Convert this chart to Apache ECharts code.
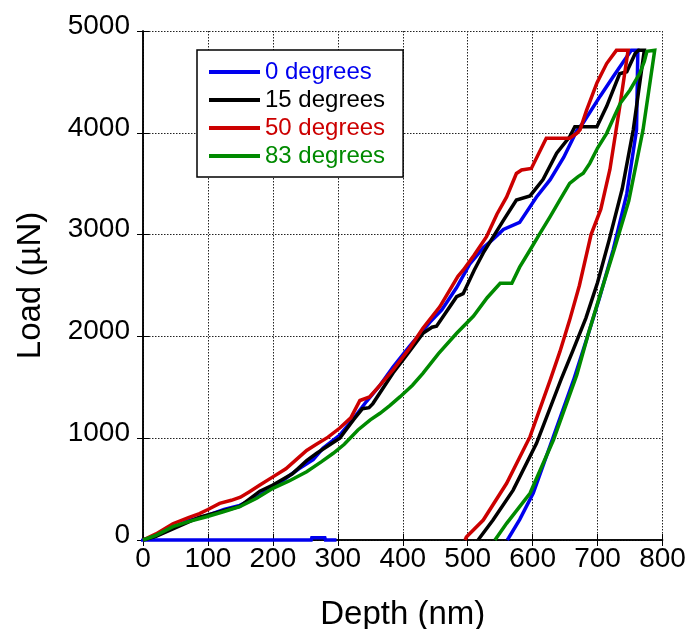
<!DOCTYPE html>
<html>
<head>
<meta charset="utf-8">
<script src="https://cdn.jsdelivr.net/npm/echarts@6/dist/echarts.min.js"></script>
<style>
  html, body { margin: 0; padding: 0; background: #fff; }
  #chart { width: 687px; height: 629px; }
</style>
</head>
<body>
<div id="chart"></div>
<script>
// Load–depth indentation curves, one per tilt angle: [depth nm, load µN]
const seriesNames = ['0 degrees', '15 degrees', '50 degrees', '83 degrees'];
const seriesColors = ['#0000ee', '#000000', '#cc0000', '#008a00'];

const deg0 = [
  [298,0],[281,0],[280,22],[260,22],[259,0],[0,0],
  [20,40],[46,120],[70,190],[98,240],[125,300],[149,340],[175,420],[210,560],
  [240,700],[262,790],[277,900],[303,1030],[325,1200],[344,1360],[365,1520],
  [385,1700],[410,1900],[442,2140],[460,2260],[483,2480],[503,2710],[524,2870],
  [540,2960],[555,3050],[580,3120],[606,3370],[627,3540],[648,3760],[668,4020],
  [678,4100],[704,4360],[724,4550],[740,4700],[752,4810],[762,4810],
  [760,4030],[745,3400],[724,2850],[703,2380],[684,1990],[663,1570],
  [632,1015],[601,460],[580,200],[563,20],[561,0]
];

const deg15 = [
  [0,0],[20,35],[46,110],[87,225],[120,280],[149,330],[180,480],[200,540],
  [230,650],[252,780],[267,850],[303,1000],[324,1180],[338,1290],[348,1300],
  [354,1340],[385,1640],[410,1850],[431,2030],[445,2090],[452,2100],[468,2250],
  [483,2390],[493,2420],[510,2650],[524,2820],[555,3140],[575,3340],[596,3380],
  [616,3540],[637,3800],[657,3960],[665,4060],[699,4060],[714,4260],[734,4580],
  [745,4600],[758,4780],[763,4810],[772,4810],
  [755,4030],[738,3450],[718,2950],[700,2530],[682,2180],[662,1860],[644,1580],
  [606,950],[570,490],[539,196],[516,0]
];

const deg50 = [
  [0,0],[20,60],[46,160],[70,220],[87,260],[100,300],[118,360],[136,390],
  [150,420],[164,475],[180,540],[200,620],[220,700],[236,790],[252,880],
  [267,940],[285,1010],[303,1100],[320,1200],[334,1370],[349,1405],[362,1500],
  [385,1670],[410,1880],[431,2080],[457,2290],[485,2590],[493,2650],[510,2800],
  [529,2980],[545,3200],[560,3370],[575,3600],[583,3635],[598,3650],[621,3946],
  [657,3946],[668,3995],[673,4030],[683,4220],[699,4490],[714,4680],[729,4810],
  [747,4810],
  [735,4290],[719,3640],[705,3250],[690,3000],[672,2500],[657,2160],[642,1850],
  [627,1570],[596,1015],[560,557],[524,196],[498,30],[496,0]
];

const deg83 = [
  [0,0],[20,45],[46,131],[70,180],[98,229],[125,280],[149,327],[175,410],
  [200,508],[225,580],[252,671],[275,770],[293,852],[310,940],[331,1081],
  [350,1180],[365,1245],[380,1320],[396,1408],[415,1520],[431,1637],[455,1830],
  [483,2031],[509,2200],[530,2380],[550,2522],[568,2522],[580,2680],[596,2849],
  [612,3020],[627,3176],[642,3340],[657,3504],[670,3570],[678,3602],[688,3700],
  [700,3850],[714,3995],[725,4150],[735,4290],[750,4421],[765,4584],[772,4700],
  [776,4800],[788,4810],
  [770,4028],[748,3330],[726,2860],[705,2430],[686,2030],[668,1620],
  [632,982],[596,459],[560,164],[542,0]
];

const seriesData = [deg0, deg15, deg50, deg83];

// Axis ranges and tick spacing
const xMin = 0, xMax = 800, xStep = 100;
const yMin = 0, yMax = 5000, yStep = 1000;

const FONT = '"Liberation Sans", Arial, Helvetica, sans-serif';

const chart = echarts.init(document.getElementById('chart'), null, { renderer: 'canvas' });

const frameLine = { show: true, lineStyle: { color: '#000', width: 1.5 } };
const tickIn = { show: true, inside: true, length: 6, lineStyle: { color: '#000', width: 1 } };
const dotted = { show: true, lineStyle: { color: '#222', width: 1, type: [1.5, 1.5] } };
const plain = v => String(v);

chart.setOption({
  animation: false,
  backgroundColor: '#fff',
  grid: {
    left: 143, right: 24.5, top: 31, bottom: 89,
    containLabel: false, outerBoundsMode: 'none'
  },
  legend: {
    orient: 'vertical',
    left: 197,
    top: 50,
    padding: [10, 18, 9, 12],
    itemGap: 4,
    itemWidth: 51,
    itemHeight: 4,
    icon: 'rect',
    backgroundColor: '#fff',
    borderColor: '#000',
    borderWidth: 1.5,
    borderRadius: 0,
    selectedMode: false,
    textStyle: { fontFamily: FONT, fontSize: 24 },
    data: seriesNames.map((n, i) => ({ name: n, textStyle: { color: seriesColors[i] } }))
  },
  xAxis: [
    {
      type: 'value', position: 'bottom', min: xMin, max: xMax, interval: xStep,
      name: 'Depth (nm)', nameLocation: 'middle', nameGap: 58,
      nameTextStyle: { fontFamily: FONT, fontSize: 33, color: '#000' },
      axisLine: frameLine, axisTick: tickIn, splitLine: dotted,
      axisLabel: { fontFamily: FONT, fontSize: 28, color: '#000', margin: 5, formatter: plain }
    },
    {
      type: 'value', position: 'top', min: xMin, max: xMax, interval: xStep,
      axisLine: frameLine, axisTick: tickIn, splitLine: { show: false },
      axisLabel: { show: false }
    }
  ],
  yAxis: [
    {
      type: 'value', position: 'left', min: yMin, max: yMax, interval: yStep,
      name: 'Load (µN)', nameLocation: 'middle', nameGap: 96,
      nameTextStyle: { fontFamily: FONT, fontSize: 33, color: '#000' },
      axisLine: frameLine, axisTick: tickIn, splitLine: dotted,
      axisLabel: {
        fontFamily: FONT, fontSize: 28, color: '#000', margin: 13,
        verticalAlign: 'bottom', lineHeight: 10, formatter: plain
      }
    },
    {
      type: 'value', position: 'right', min: yMin, max: yMax, interval: yStep,
      axisLine: frameLine, axisTick: tickIn, splitLine: { show: false },
      axisLabel: { show: false }
    }
  ],
  series: seriesData.map((d, i) => ({
    name: seriesNames[i],
    type: 'line',
    xAxisIndex: 0,
    yAxisIndex: 0,
    data: d,
    symbol: 'none',
    smooth: false,
    clip: false,
    color: seriesColors[i],
    lineStyle: { color: seriesColors[i], width: 3.5, join: 'miter' },
    z: 3 + i
  }))
});
</script>
</body>
</html>
